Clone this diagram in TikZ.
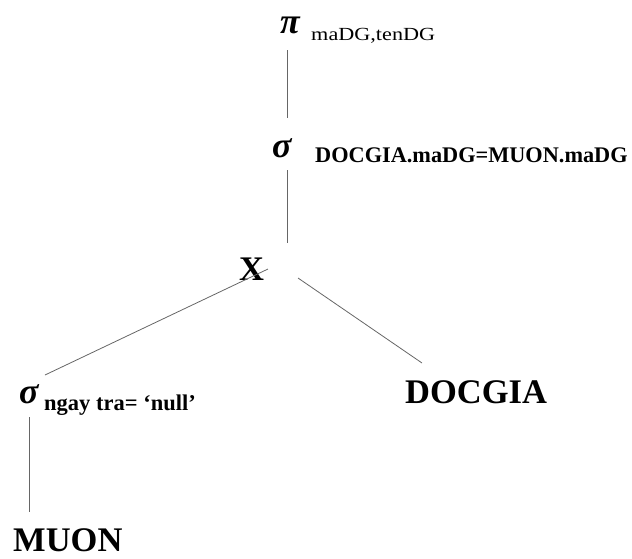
\documentclass[tikz,border=0pt]{standalone}
\usepackage{fontspec}
\setmainfont{Liberation Serif}
\begin{document}
\begin{tikzpicture}[x=1pt,y=-1pt,
  greek/.style={inner sep=0pt,anchor=base west,font=\fontsize{36}{36}\selectfont\bfseries\itshape},
  sub/.style={inner sep=0pt,anchor=base west,font=\fontsize{22.3}{22.3}\selectfont\bfseries},
  rel/.style={inner sep=0pt,anchor=base west,font=\fontsize{34.5}{34.5}\selectfont\bfseries},
  edge/.style={draw=black!60,line width=0.8pt}]
\useasboundingbox (0,0) rectangle (632,558);

% projection
\node[greek] (pi) at (280,33) {π};
\node[inner sep=0pt,anchor=base west,xscale=1.2,font=\fontsize{18.5}{18.5}\selectfont] (pisub) at (311,40) {maDG,tenDG};

% join selection
\node[greek] (sel) at (272,157) {σ};
\node[sub] (selsub) at (315,162) {DOCGIA.maDG=MUON.maDG};

% cartesian product
\node[rel] (cross) at (239,280) {X};

% selection on MUON
\node[greek] (nsel) at (19,403) {σ};
\node[inner sep=0pt,anchor=base west,font=\fontsize{22.5}{22.5}\selectfont\bfseries] (nselsub) at (44,410) {ngay tra= ‘null’};

% relations
\node[rel] (docgia) at (405,403) {DOCGIA};
\node[rel] (muon) at (13,551) {MUON};

% connector ends
\coordinate (piB) at (287,50);
\coordinate (selT) at (287,118);
\coordinate (selB) at (287,170);
\coordinate (crossT) at (287,243);
\coordinate (crossL) at (268,269);
\coordinate (crossR) at (298,278);
\coordinate (nselT) at (45,375);
\coordinate (docT) at (422,363);
\coordinate (nselB) at (29,417);
\coordinate (muonT) at (29,512);

\draw[edge] (piB) -- (selT);
\draw[edge] (selB) -- (crossT);
\draw[edge] (crossL) -- (nselT);
\draw[edge] (crossR) -- (docT);
\draw[edge] (nselB) -- (muonT);
\end{tikzpicture}
\end{document}
